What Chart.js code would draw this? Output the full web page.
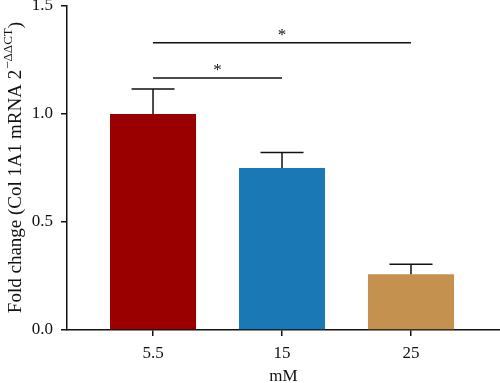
<!DOCTYPE html>
<html>
<head>
<meta charset="utf-8">
<script src="https://cdn.jsdelivr.net/npm/chart.js@4.4.1/dist/chart.umd.min.js"></script>
<style>
  html, body { margin: 0; padding: 0; background: #fff; }
  #wrap { width: 500px; height: 383px; position: relative; }
</style>
</head>
<body>
<div id="wrap"><canvas id="c"></canvas></div>
<script>
// ---- data ----
const categories = ['5.5', '15', '25'];
const foldChange = [1.00, 0.75, 0.258];
const errorUpper = [0.116, 0.072, 0.046];
const barColors = ['#9b0000', '#1a78b4', '#c4914f'];
const yTicks = [0, 0.5, 1.0, 1.5];
const xTitle = 'mM';
const yTitleMain = 'Fold change (Col 1A1 mRNA 2';
const yTitleSup = '\u2212\u0394\u0394CT';
const yTitleEnd = ')';
// significance brackets: from category index, to category index, y level, label
const sigFrom = [0, 0];
const sigTo = [2, 1];
const sigLevel = [1.33, 1.167];
const sigLabel = ['*', '*'];

const FONT = '"Liberation Serif", "DejaVu Serif", serif';

const overlay = {
  id: 'overlay',
  afterDatasetsDraw(chart) {
    const ctx = chart.ctx;
    const xs = chart.scales.x, ys = chart.scales.y;
    const meta = chart.getDatasetMeta(0);
    ctx.save();
    ctx.strokeStyle = '#111';
    ctx.lineWidth = 1.5;
    // error bars (upper only)
    foldChange.forEach((v, i) => {
      const bar = meta.data[i];
      const x = bar.x;
      const yTop = ys.getPixelForValue(v);
      const yErr = ys.getPixelForValue(v + errorUpper[i]);
      const half = bar.width / 4;
      ctx.beginPath();
      ctx.moveTo(x, yTop);
      ctx.lineTo(x, yErr);
      ctx.moveTo(x - half, yErr);
      ctx.lineTo(x + half, yErr);
      ctx.stroke();
    });
    // significance lines
    ctx.fillStyle = '#111';
    ctx.textAlign = 'center';
    ctx.textBaseline = 'alphabetic';
    ctx.font = '17px ' + FONT;
    sigFrom.forEach((f, k) => {
      const x1 = xs.getPixelForValue(f);
      const x2 = xs.getPixelForValue(sigTo[k]);
      const y = ys.getPixelForValue(sigLevel[k]);
      ctx.beginPath();
      ctx.moveTo(x1, y);
      ctx.lineTo(x2, y);
      ctx.stroke();
      ctx.fillText(sigLabel[k], (x1 + x2) / 2, y - 3);
    });
    // y axis title with superscript
    const ca = chart.chartArea;
    ctx.save();
    ctx.translate(16, (ca.top + ca.bottom) / 2);
    ctx.rotate(-Math.PI / 2);
    const mainFont = '19px ' + FONT;
    const supFont = '13px ' + FONT;
    ctx.font = mainFont;
    const w1 = ctx.measureText(yTitleMain).width;
    const w3 = ctx.measureText(yTitleEnd).width;
    ctx.font = supFont;
    const w2 = ctx.measureText(yTitleSup).width;
    const total = w1 + w2 + w3;
    let x0 = -total / 2;
    ctx.textAlign = 'left';
    ctx.textBaseline = 'middle';
    ctx.font = mainFont;
    ctx.fillText(yTitleMain, x0, 0);
    ctx.font = supFont;
    ctx.fillText(yTitleSup, x0 + w1 + 1, -7);
    ctx.font = mainFont;
    ctx.fillText(yTitleEnd, x0 + w1 + w2 + 1, 0);
    ctx.restore();
    ctx.restore();
  }
};

new Chart(document.getElementById('c'), {
  type: 'bar',
  data: {
    datasets: [{
      data: foldChange.map((v, i) => ({ x: i, y: v })),
      backgroundColor: barColors,
      borderWidth: 0,
      barPercentage: 0.667,
      categoryPercentage: 1.0
    }]
  },
  options: {
    responsive: true,
    maintainAspectRatio: false,
    animation: false,
    layout: { padding: { left: 0, right: 0, top: 6, bottom: 0 } },
    plugins: { legend: { display: false }, tooltip: { enabled: false } },
    scales: {
      x: {
        type: 'linear',
        min: -0.667,
        max: 2.69,
        offset: false,
        afterBuildTicks: (s) => { s.ticks = categories.map((c, i) => ({ value: i })); },
        afterFit: (s) => { s.height = 53; s.paddingLeft = 0; s.paddingRight = 0; },
        ticks: {
          callback: (v) => categories[v],
          color: '#111',
          font: { family: FONT, size: 17 },
          padding: 7,
          maxRotation: 0
        },
        grid: { display: true, offset: false, drawOnChartArea: false, drawTicks: true, tickLength: 6, color: '#111', lineWidth: 1.5 },
        border: { display: true, color: '#111', width: 1.5 },
        title: { display: true, text: xTitle, color: '#111', font: { family: FONT, size: 17 }, padding: { top: 0, bottom: -4 } }
      },
      y: {
        min: 0,
        max: 1.5,
        afterBuildTicks: (s) => { s.ticks = yTicks.map(v => ({ value: v })); },
        afterFit: (s) => { s.width = 67; s.paddingTop = 0; s.paddingBottom = 0; },
        ticks: {
          callback: (v) => v.toFixed(1),
          color: '#111',
          font: { family: FONT, size: 17 },
          padding: 8
        },
        grid: { display: true, drawOnChartArea: false, drawTicks: true, tickLength: 6, color: '#111', lineWidth: 1.5 },
        border: { display: true, color: '#111', width: 1.5 }
      }
    }
  },
  plugins: [overlay]
});
</script>
</body>
</html>
